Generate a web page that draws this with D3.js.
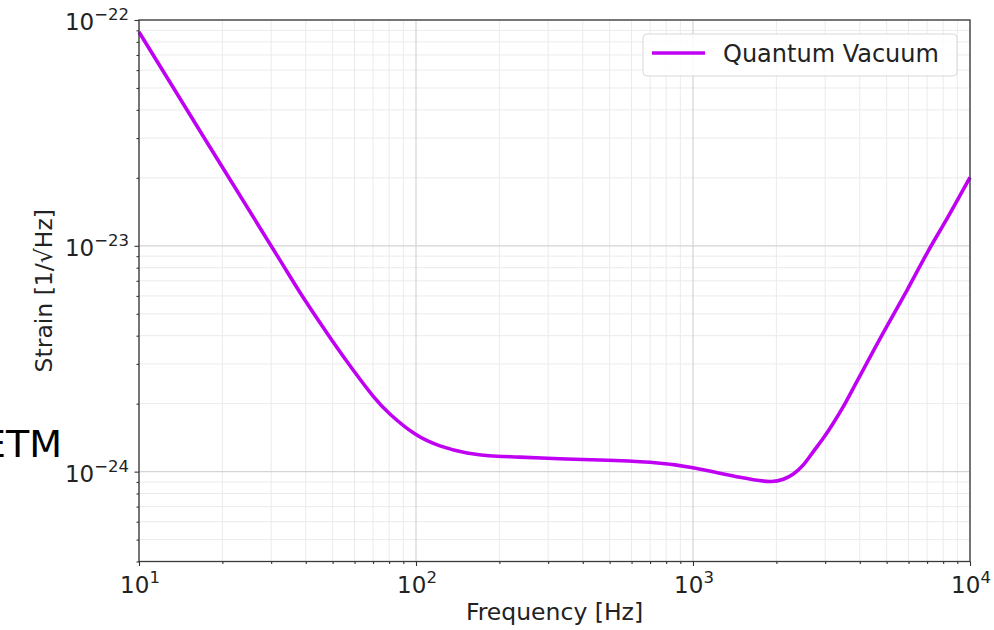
<!DOCTYPE html>
<html>
<head>
<meta charset="utf-8">
<script src="https://cdn.jsdelivr.net/npm/d3@7"></script>
<style>
body { margin: 0; background: #fff; }
svg { font-family: "DejaVu Sans", sans-serif; }
</style>
</head>
<body>
<div id="chart"></div>
<script>
// quantum vacuum noise curve
var freq = [10, 17.7, 31.5, 39.7, 49.7, 59.3, 70, 80.5, 99, 122, 153, 196, 237, 330, 461, 700,
    1000, 1479, 1897, 2118, 2303, 2502, 2718, 2952, 3208, 3488, 3846, 4855, 5930, 7000, 8260, 10000];
var strain = [8.85e-23, 2.84e-23, 9.07e-24, 5.75e-24, 3.82e-24, 2.82e-24, 2.16e-24, 1.80e-24,
    1.47e-24, 1.30e-24, 1.21e-24, 1.17e-24, 1.16e-24, 1.14e-24, 1.126e-24, 1.10e-24,
    1.04e-24, 9.44e-25, 9.04e-25, 9.25e-25, 9.77e-25, 1.071e-24, 1.226e-24, 1.405e-24,
    1.638e-24, 1.94e-24, 2.42e-24, 4.11e-24, 6.37e-24, 9.29e-24, 1.32e-23, 2.01e-23];

var xMajor = [1e1, 1e2, 1e3, 1e4];
var xMajorExp = ["1", "2", "3", "4"];
var yMajor = [1e-22, 1e-23, 1e-24];
var yMajorExp = ["\u221222", "\u221223", "\u221224"];
var seriesName = "Quantum Vacuum";

var width = 994, height = 630;
var m = { left: 139, right: 970, top: 20, bottom: 561.5 };

var svg = d3.select("#chart").append("svg")
    .attr("width", width)
    .attr("height", height);

var x = d3.scaleLog().domain([10, 1e4]).range([m.left, m.right]);
var y = d3.scaleLog().domain([4e-25, 1e-22]).range([m.bottom, m.top]);

// minor tick values 2..9 per decade
function minors(lo, hi) {
    var out = [];
    for (var e = Math.floor(Math.log10(lo)); e <= Math.ceil(Math.log10(hi)); e++) {
        for (var k = 2; k <= 9; k++) {
            var v = k * Math.pow(10, e);
            if (v > lo * 0.999 && v < hi * 1.001) out.push(v);
        }
    }
    return out;
}
var xMinor = minors(10, 1e4);
var yMinor = minors(4e-25, 1e-22);

// grid
var grid = svg.append("g").attr("class", "grid");
grid.selectAll(".xminor").data(xMinor).enter().append("line")
    .attr("x1", d => x(d)).attr("x2", d => x(d))
    .attr("y1", m.top).attr("y2", m.bottom)
    .attr("stroke", "#ebebeb").attr("stroke-width", 1);
grid.selectAll(".yminor").data(yMinor).enter().append("line")
    .attr("y1", d => y(d)).attr("y2", d => y(d))
    .attr("x1", m.left).attr("x2", m.right)
    .attr("stroke", "#ebebeb").attr("stroke-width", 1);
grid.selectAll(".xmajor").data(xMajor).enter().append("line")
    .attr("x1", d => x(d)).attr("x2", d => x(d))
    .attr("y1", m.top).attr("y2", m.bottom)
    .attr("stroke", "#d4d4d4").attr("stroke-width", 1.2);
grid.selectAll(".ymajor").data(yMajor).enter().append("line")
    .attr("y1", d => y(d)).attr("y2", d => y(d))
    .attr("x1", m.left).attr("x2", m.right)
    .attr("stroke", "#d4d4d4").attr("stroke-width", 1.2);

// the curve
var line = d3.line()
    .x(function(d, i) { return x(freq[i]); })
    .y(function(d) { return y(d); })
    .curve(d3.curveNatural);

svg.append("path")
    .datum(strain)
    .attr("fill", "none")
    .attr("stroke", "#c000f2")
    .attr("stroke-width", 3.6)
    .attr("stroke-linejoin", "round")
    .attr("d", line);

// axes (ticks only, labels drawn below)
var xAxisMajor = d3.axisBottom(x).tickValues(xMajor).tickSize(4.5).tickFormat("");
var xAxisMinor = d3.axisBottom(x).tickValues(xMinor).tickSize(2.5).tickFormat("");
var yAxisMajor = d3.axisLeft(y).tickValues(yMajor).tickSize(4.5).tickFormat("");
var yAxisMinor = d3.axisLeft(y).tickValues(yMinor).tickSize(2.5).tickFormat("");

[xAxisMajor, xAxisMinor].forEach(function(ax) {
    svg.append("g").attr("transform", "translate(0," + m.bottom + ")").call(ax)
        .call(g => g.select(".domain").remove())
        .selectAll("line").attr("stroke", "#333").attr("stroke-width", 1.1);
});
[yAxisMajor, yAxisMinor].forEach(function(ax) {
    svg.append("g").attr("transform", "translate(" + m.left + ",0)").call(ax)
        .call(g => g.select(".domain").remove())
        .selectAll("line").attr("stroke", "#333").attr("stroke-width", 1.1);
});

// frame
svg.append("rect")
    .attr("x", m.left).attr("y", m.top)
    .attr("width", m.right - m.left).attr("height", m.bottom - m.top)
    .attr("fill", "none").attr("stroke", "#3a3a3a").attr("stroke-width", 1.3);

// tick labels with superscripts
var xl = svg.selectAll(".xlab").data(xMajor).enter().append("text")
    .attr("x", d => x(d) + 1)
    .attr("y", m.bottom + 31)
    .attr("text-anchor", "middle")
    .attr("font-size", 23)
    .attr("fill", "#222");
xl.append("tspan").text("10");
xl.append("tspan").attr("dy", -10).attr("font-size", 16.5).text((d, i) => xMajorExp[i]);

var yl = svg.selectAll(".ylab").data(yMajor).enter().append("text")
    .attr("x", m.left - 10)
    .attr("y", d => y(d) + 10)
    .attr("text-anchor", "end")
    .attr("font-size", 23)
    .attr("fill", "#222");
yl.append("tspan").text("10");
yl.append("tspan").attr("dy", -10).attr("font-size", 16.5).text((d, i) => yMajorExp[i]);

// axis titles
svg.append("text")
    .attr("x", (m.left + m.right) / 2)
    .attr("y", 620)
    .attr("text-anchor", "middle")
    .attr("font-size", 23.5)
    .attr("fill", "#222")
    .text("Frequency [Hz]");

svg.append("text")
    .attr("transform", "translate(52," + (m.top + m.bottom) / 2 + ") rotate(-90)")
    .attr("text-anchor", "middle")
    .attr("font-size", 23.5)
    .attr("fill", "#222")
    .text("Strain [1/\u221AHz]");

// legend
var lg = svg.append("g").attr("class", "legend");
lg.append("rect")
    .attr("x", 643).attr("y", 34)
    .attr("width", 314).attr("height", 42)
    .attr("rx", 4)
    .attr("fill", "#fff").attr("fill-opacity", 0.85)
    .attr("stroke", "#d8d8d8").attr("stroke-width", 1);
lg.append("line")
    .attr("x1", 652).attr("x2", 705)
    .attr("y1", 53).attr("y2", 53)
    .attr("stroke", "#c000f2").attr("stroke-width", 3.6);
lg.append("text")
    .attr("x", 723).attr("y", 62)
    .attr("font-size", 24)
    .attr("fill", "#222")
    .text(seriesName);

// stray slide label on the left edge
svg.append("text")
    .attr("x", 62).attr("y", 457)
    .attr("text-anchor", "end")
    .attr("font-size", 38)
    .attr("fill", "#000")
    .text("ETM");
</script>
</body>
</html>
